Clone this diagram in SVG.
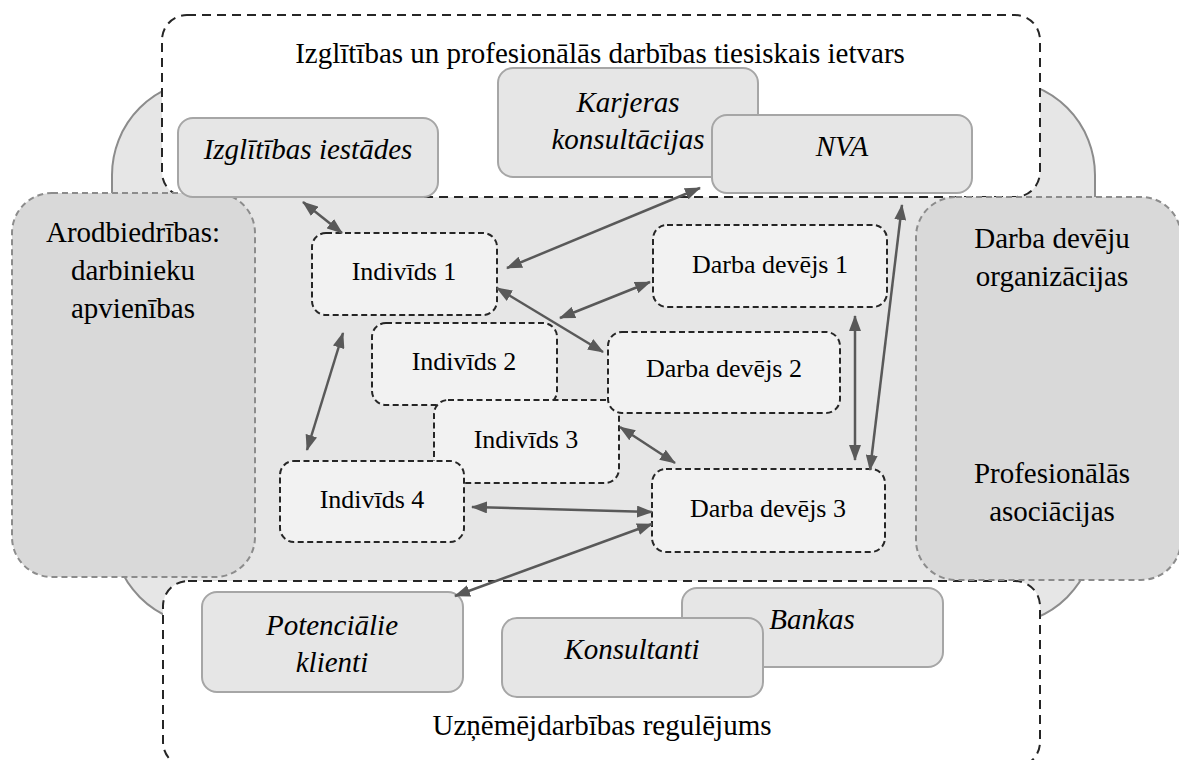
<svg xmlns="http://www.w3.org/2000/svg" width="1179" height="760" viewBox="0 0 1179 760">
<style>
text{font-family:"Liberation Serif","Times New Roman",serif;fill:#000;text-anchor:middle}
.t29{font-size:29px}
.t26{font-size:26px}
.it{font-size:29px;font-style:italic}
.frame{fill:#fff;stroke:#262626;stroke-width:2;stroke-dasharray:9 6}
.side{fill:#d9d9d9;stroke:#8c8c8c;stroke-width:2;stroke-dasharray:6 4}
.ext{fill:#e6e6e6;stroke:#a6a6a6;stroke-width:2}
.ind{fill:#f2f2f2;stroke:#262626;stroke-width:2;stroke-dasharray:6 3.5}
.arr{stroke:#595959;stroke-width:2.5;fill:none;marker-start:url(#ah);marker-end:url(#ah)}
</style>
<defs>
<marker id="ah" markerUnits="userSpaceOnUse" markerWidth="16" markerHeight="12" refX="15" refY="6" orient="auto-start-reverse" viewBox="0 0 16 12">
<path d="M0,0 L16,6 L0,12 z" fill="#595959"/>
</marker>
</defs>
<g id="background">
<rect x="112" y="80" width="983" height="545" rx="95" ry="95" fill="#e6e6e6" stroke="#8c8c8c" stroke-width="2"/>
</g>
<g id="frame-top">
<rect class="frame" x="162" y="15" width="878" height="182" rx="25"/>
<text class="t29" x="600" y="63">Izglītības un profesionālās darbības tiesiskais ietvars</text>
</g>
<g id="frame-bottom">
<rect class="frame" x="163" y="581" width="877" height="186" rx="25"/>
<text class="t29" x="602" y="735">Uzņēmējdarbības regulējums</text>
</g>
<g id="arodbiedribas">
<rect class="side" x="12" y="193" width="243" height="384" rx="40"/>
<text class="t29" x="133" y="242">Arodbiedrības:</text>
<text class="t29" x="133" y="280">darbinieku</text>
<text class="t29" x="133" y="318">apvienības</text>
</g>
<g id="organizacijas">
<rect class="side" x="916" y="197" width="265" height="383" rx="40"/>
<text class="t29" x="1052" y="248">Darba devēju</text>
<text class="t29" x="1052" y="286">organizācijas</text>
<text class="t29" x="1052" y="483">Profesionālās</text>
<text class="t29" x="1052" y="521">asociācijas</text>
</g>
<g id="izglitibas-iestades">
<rect class="ext" x="178" y="118" width="260" height="79" rx="15"/>
<text class="it" x="308" y="159">Izglītības iestādes</text>
</g>
<g id="karjeras">
<rect class="ext" x="498" y="68" width="260" height="109" rx="15"/>
<text class="it" x="628" y="112">Karjeras</text>
<text class="it" x="628" y="149">konsultācijas</text>
</g>
<g id="nva">
<rect class="ext" x="712" y="115" width="260" height="78" rx="15"/>
<text class="it" x="842" y="156">NVA</text>
</g>
<g id="potencialie">
<rect class="ext" x="202" y="592" width="261" height="100" rx="15"/>
<text class="it" x="332" y="635">Potenciālie</text>
<text class="it" x="332" y="672">klienti</text>
</g>
<g id="bankas">
<rect class="ext" x="682" y="588" width="261" height="79" rx="15"/>
<text class="it" x="812" y="629">Bankas</text>
</g>
<g id="konsultanti">
<rect class="ext" x="502" y="618" width="261" height="79" rx="15"/>
<text class="it" x="632" y="659">Konsultanti</text>
</g>
<g id="individs1">
<rect class="ind" x="312" y="233" width="185" height="82" rx="14"/>
<text class="t26" x="404" y="280">Indivīds 1</text>
</g>
<g id="darba-devejs1">
<rect class="ind" x="653" y="225" width="234" height="82" rx="14"/>
<text class="t26" x="770" y="273">Darba devējs 1</text>
</g>
<g id="individs2">
<rect class="ind" x="372" y="323" width="185" height="82" rx="14"/>
<text class="t26" x="464" y="370">Indivīds 2</text>
</g>
<g id="individs3">
<rect class="ind" x="434" y="400" width="185" height="83" rx="14"/>
<text class="t26" x="526" y="448">Indivīds 3</text>
</g>
<g id="darba-devejs2">
<rect class="ind" x="608" y="332" width="232" height="81" rx="14"/>
<text class="t26" x="724" y="377">Darba devējs 2</text>
</g>
<g id="individs4">
<rect class="ind" x="280" y="461" width="184" height="81" rx="14"/>
<text class="t26" x="372" y="508">Indivīds 4</text>
</g>
<g id="darba-devejs3">
<rect class="ind" x="652" y="469" width="233" height="83" rx="14"/>
<text class="t26" x="768" y="517">Darba devējs 3</text>
</g>
<g id="connectors">
<line class="arr" x1="303" y1="202" x2="342" y2="233"/>
<line class="arr" x1="507" y1="268" x2="700" y2="188"/>
<line class="arr" x1="497" y1="288" x2="603" y2="352"/>
<line class="arr" x1="560" y1="318" x2="650" y2="282"/>
<line class="arr" x1="855" y1="316" x2="855" y2="460"/>
<line class="arr" x1="902" y1="205" x2="870" y2="470"/>
<line class="arr" x1="620" y1="427" x2="675" y2="463"/>
<line class="arr" x1="472" y1="507" x2="652" y2="512"/>
<line class="arr" x1="455" y1="596" x2="652" y2="524"/>
<line class="arr" x1="343" y1="333" x2="307" y2="450"/>
</g>
</svg>
